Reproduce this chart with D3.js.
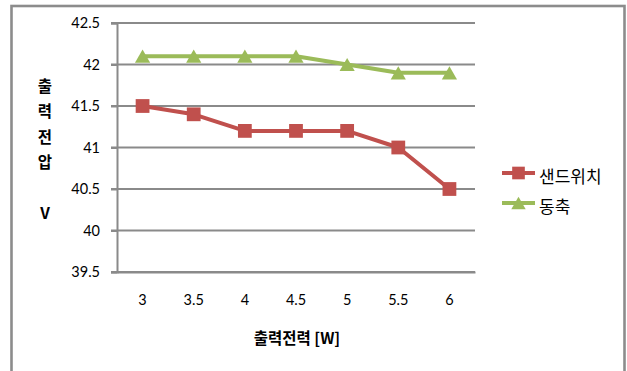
<!DOCTYPE html>
<html>
<head>
<meta charset="utf-8">
<script src="https://cdn.jsdelivr.net/npm/d3@7"></script>
<style>
  html, body { margin: 0; padding: 0; background: #fff; }
  svg { display: block; }
</style>
</head>
<body>
<svg id="chart" width="627" height="371"></svg>
<script>
// Output power categories [W]
const categories = ["3", "3.5", "4", "4.5", "5", "5.5", "6"];
// Output voltage [V] per configuration
const sandwichValues = [41.5, 41.4, 41.2, 41.2, 41.2, 41.0, 40.5];
const coaxialValues = [42.1, 42.1, 42.1, 42.1, 42.0, 41.9, 41.9];
const seriesNames = ["샌드위치", "동축"];
const yTicks = [39.5, 40, 40.5, 41, 41.5, 42, 42.5];

const numFont = "Lato, 'Noto Sans', sans-serif";
const krFont = "'Noto Sans CJK KR', 'Noto Sans', sans-serif";
const gridColor = "#8a8a8a";
const red = "#C0504D";
const green = "#9BBB59";

const svg = d3.select("#chart");

// Outer chart frame
svg.append("rect")
  .attr("x", 11.5).attr("y", 6)
  .attr("width", 613).attr("height", 380)
  .attr("fill", "#fff")
  .attr("stroke", "#8c8c8c").attr("stroke-width", 2.6);

const plot = { left: 117, right: 475, top: 23, bottom: 272 };

const x = d3.scaleBand()
  .domain(categories)
  .range([plot.left, plot.right]);

const y = d3.scaleLinear()
  .domain([39.5, 42.5])
  .range([plot.bottom, plot.top]);

// Horizontal gridlines
svg.append("g")
  .selectAll("line")
  .data(yTicks)
  .join("line")
  .attr("x1", plot.left - 6).attr("x2", plot.right)
  .attr("y1", d => y(d)).attr("y2", d => y(d))
  .attr("stroke", gridColor).attr("stroke-width", 2);

// Y axis
const yAxis = svg.append("g")
  .attr("transform", `translate(${plot.left},0)`)
  .call(d3.axisLeft(y).tickValues(yTicks).tickSize(6).tickPadding(11)
    .tickFormat(d => String(d)));
yAxis.select(".domain").attr("stroke", gridColor).attr("stroke-width", 2);
yAxis.selectAll(".tick line").attr("stroke", gridColor).attr("stroke-width", 2);
yAxis.selectAll("text")
  .attr("font-family", numFont).attr("font-size", 14.5).attr("fill", "#000");

// X axis
const xAxis = svg.append("g")
  .attr("transform", `translate(0,${plot.bottom})`)
  .call(d3.axisBottom(x).tickSize(0).tickPadding(23));
xAxis.select(".domain").attr("stroke", gridColor).attr("stroke-width", 2);
xAxis.selectAll("text")
  .attr("font-family", numFont).attr("font-size", 14.5).attr("fill", "#000");

const cx = d => x(d) + x.bandwidth() / 2;

const line = d3.line()
  .x((d, i) => cx(categories[i]))
  .y(d => y(d));

// Triangle symbols are shifted so their bounding box is centred on the point
const triSize = 100;
const triShift = Math.sqrt(triSize / (3 * Math.sqrt(3))) / 2;

function drawSeries(values, color, sym, dy) {
  svg.append("path")
    .datum(values)
    .attr("fill", "none")
    .attr("stroke", color)
    .attr("stroke-width", 4)
    .attr("stroke-linejoin", "round")
    .attr("d", line);
  svg.append("g")
    .selectAll("path")
    .data(values)
    .join("path")
    .attr("transform", (d, i) => `translate(${cx(categories[i])},${y(d) + dy})`)
    .attr("d", sym)
    .attr("fill", color);
}

drawSeries(sandwichValues, red, d3.symbol().type(d3.symbolSquare).size(190), 0);
drawSeries(coaxialValues, green, d3.symbol().type(d3.symbolTriangle).size(triSize), triShift);

// Y axis title, stacked vertically
const yTitle = ["출", "력", "전", "압", "", "V"];
svg.append("g")
  .selectAll("text")
  .data(yTitle)
  .join("text")
  .attr("x", 45)
  .attr("y", (d, i) => 92 + i * 25.3)
  .attr("text-anchor", "middle")
  .attr("font-family", krFont)
  .attr("font-weight", "bold")
  .attr("font-size", 15.5)
  .text(d => d);

// X axis title
svg.append("text")
  .attr("x", 297).attr("y", 344)
  .attr("text-anchor", "middle")
  .attr("font-family", krFont)
  .attr("font-weight", "bold")
  .attr("font-size", 15.5)
  .text("출력전력 [W]");

// Legend
const legend = svg.append("g");
const legendItems = [
  { name: seriesNames[0], color: red, sym: d3.symbol().type(d3.symbolSquare).size(160), dy: 0, y: 173 },
  { name: seriesNames[1], color: green, sym: d3.symbol().type(d3.symbolTriangle).size(90), dy: Math.sqrt(90 / (3 * Math.sqrt(3))) / 2, y: 203 }
];
legendItems.forEach(it => {
  legend.append("line")
    .attr("x1", 502).attr("x2", 535)
    .attr("y1", it.y).attr("y2", it.y)
    .attr("stroke", it.color).attr("stroke-width", 4);
  legend.append("path")
    .attr("transform", `translate(518.5,${it.y + it.dy})`)
    .attr("d", it.sym)
    .attr("fill", it.color);
  legend.append("text")
    .attr("x", 539).attr("y", it.y + 10)
    .attr("font-family", krFont)
    .attr("font-size", 17)
    .text(it.name);
});
</script>
</body>
</html>
